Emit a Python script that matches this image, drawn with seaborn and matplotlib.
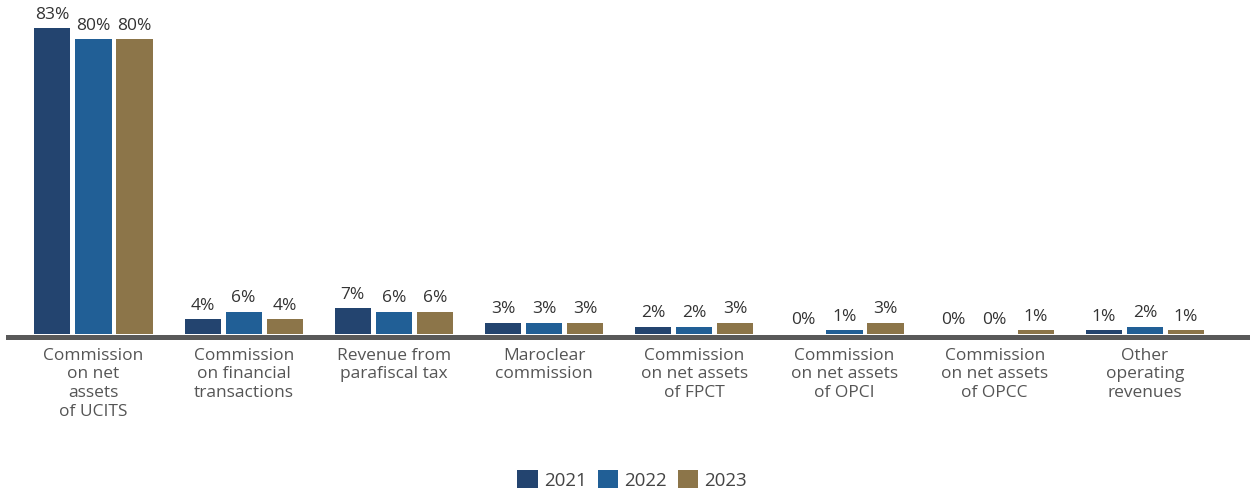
import matplotlib
matplotlib.use("Agg")
import matplotlib.pyplot as plt
import seaborn as sns
import pandas as pd

categories = [
    "Commission\non net\nassets\nof UCITS",
    "Commission\non financial\ntransactions",
    "Revenue from\nparafiscal tax",
    "Maroclear\ncommission",
    "Commission\non net assets\nof FPCT",
    "Commission\non net assets\nof OPCI",
    "Commission\non net assets\nof OPCC",
    "Other\noperating\nrevenues",
]
years = ["2021", "2022", "2023"]
share_2021 = [83, 4, 7, 3, 2, 0, 0, 1]
share_2022 = [80, 6, 6, 3, 2, 1, 0, 2]
share_2023 = [80, 4, 6, 3, 3, 3, 1, 1]

df = pd.DataFrame({
    "category": categories * 3,
    "year": [y for y in years for _ in categories],
    "share": share_2021 + share_2022 + share_2023,
})

palette = {"2021": "#23446F", "2022": "#215F96", "2023": "#8C7549"}

sns.set_style("white")
plt.rcParams["font.family"] = ["Open Sans", "DejaVu Sans"]

fig = plt.figure(figsize=(12.5, 4.93), dpi=100)
ax = fig.add_axes([8 / 1250, 1 - 334 / 493, 1242 / 1250, 324 / 493])

sns.barplot(data=df, x="category", y="share", hue="year", hue_order=years,
            order=categories, palette=palette, width=0.82, gap=0.12,
            saturation=1, linewidth=0, ax=ax, legend=True)

for cont in ax.containers:
    ax.bar_label(cont, labels=[f"{v:.0f}%" for v in cont.datavalues],
                 padding=4, fontsize=12.5, color="#333333")

ax.set_xlim(-0.569, 7.70)
ax.set_ylim(0, 87.9)
ax.set_xlabel("")
ax.set_ylabel("")
ax.set_yticks([])
for s in ["top", "right", "left"]:
    ax.spines[s].set_visible(False)
# baseline sits just under the bars
ax.spines["bottom"].set_color("#595959")
ax.spines["bottom"].set_linewidth(3.6)
ax.spines["bottom"].set_position(("outward", 1.8))
ax.tick_params(axis="x", length=0, pad=8, labelsize=12.5, labelcolor="#555555")
for lbl in ax.get_xticklabels():
    lbl.set_linespacing(1.23)
    lbl.set_verticalalignment("top")

handles, labels = ax.get_legend_handles_labels()
ax.legend_.remove()
fig.legend(handles, labels, loc="center", bbox_to_anchor=(632 / 1250, 1 - 480 / 493),
           ncol=3, frameon=False, fontsize=13.5, handlelength=1.1, handleheight=1.1,
           handletextpad=0.3, columnspacing=0.6, labelcolor="#444444")

fig.savefig("out.png", dpi=100)
